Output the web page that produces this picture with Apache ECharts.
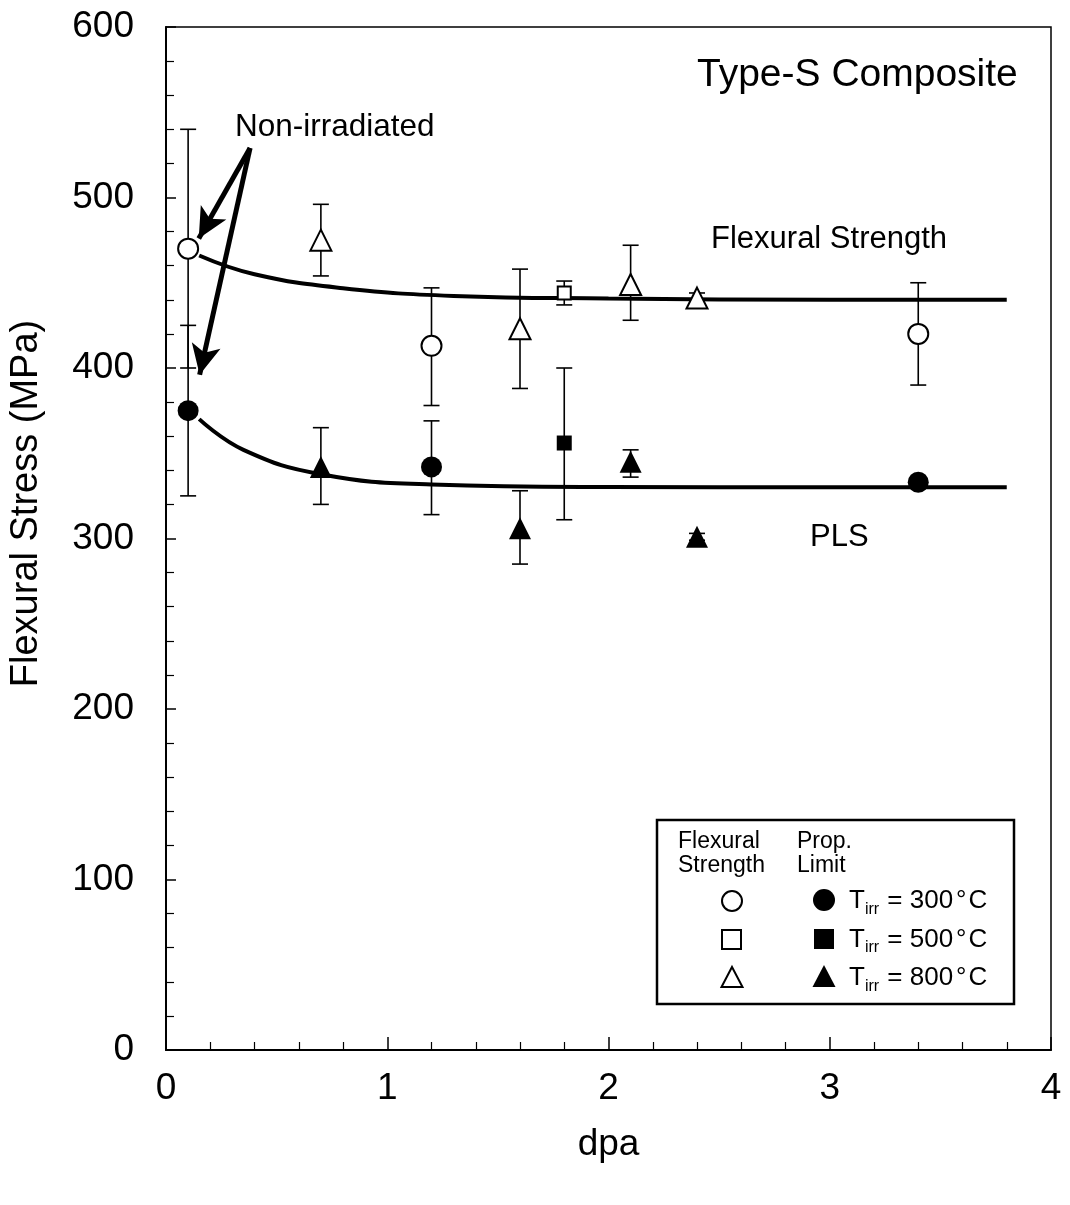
<!DOCTYPE html>
<html>
<head>
<meta charset="utf-8">
<script src="https://cdn.jsdelivr.net/npm/echarts@6/dist/echarts.min.js"></script>
<style>
html,body{margin:0;padding:0;background:#fff;}
#c{width:1070px;height:1205px;}
</style>
</head>
<body>
<div id="c"></div>
<script>
// ---- Data ----
// Flexural strength (open symbols)
const fs300X = [0.1, 1.2, 3.4];
const fs300Y = [470, 413, 420];
const fs300Lo = [400, 378, 390];
const fs300Hi = [540, 447, 450];

const fs500X = [1.8];
const fs500Y = [444];
const fs500Lo = [437];
const fs500Hi = [451];

const fs800X = [0.7, 1.6, 2.1, 2.4];
const fs800Y = [475, 423, 449, 441];
const fs800Lo = [454, 388, 428, 438];
const fs800Hi = [496, 458, 472, 444];

// Proportional limit stress (filled symbols)
const pl300X = [0.1, 1.2, 3.4];
const pl300Y = [375, 342, 333];
const pl300Lo = [325, 314, 331];
const pl300Hi = [425, 369, 335];

const pl500X = [1.8];
const pl500Y = [356];
const pl500Lo = [311];
const pl500Hi = [400];

const pl800X = [0.7, 1.6, 2.1, 2.4];
const pl800Y = [342, 306, 345, 301];
const pl800Lo = [320, 285, 336, 299];
const pl800Hi = [365, 328, 352, 303];

// Fitted trend curves
const fsCurveX = [0.15, 0.4, 0.8, 1.3, 2.0, 3.0, 3.8];
const fsCurveY = [466, 455, 446.8, 442.3, 440.8, 440, 440];
const plsCurveX = [0.15, 0.35, 0.7, 1.2, 2.0, 3.0, 3.8];
const plsCurveY = [370, 352, 337.7, 331.7, 330.2, 330, 330];

// Annotation arrows (data coords)
const arrowFrom = [0.38, 529];
const arrowTips = [[0.148, 476], [0.152, 396]];

// Axis ticks
const xTicks = [0, 1, 2, 3, 4];
const yTicks = [0, 100, 200, 300, 400, 500, 600];

const FONT = '"Liberation Sans", Arial, Helvetica, sans-serif';

function pts(xs, ys) { return xs.map((x, i) => [x, ys[i]]); }
function errData(xs, lo, hi) { return xs.map((x, i) => [x, lo[i], hi[i]]); }

function errSeries(xs, lo, hi) {
  return {
    type: 'custom',
    data: errData(xs, lo, hi),
    z: 2,
    silent: true,
    encode: { x: 0, y: [1, 2] },
    renderItem: function (params, api) {
      const x = api.value(0);
      const pLo = api.coord([x, api.value(1)]);
      const pHi = api.coord([x, api.value(2)]);
      const w = 8;
      const st = { stroke: '#000', lineWidth: 1.6, fill: null };
      return {
        type: 'group',
        children: [
          { type: 'line', shape: { x1: pLo[0], y1: pLo[1], x2: pHi[0], y2: pHi[1] }, style: st },
          { type: 'line', shape: { x1: pLo[0] - w, y1: pLo[1], x2: pLo[0] + w, y2: pLo[1] }, style: st },
          { type: 'line', shape: { x1: pHi[0] - w, y1: pHi[1], x2: pHi[0] + w, y2: pHi[1] }, style: st }
        ]
      };
    }
  };
}

function scat(xs, ys, symbol, size, filled) {
  return {
    type: 'scatter',
    data: pts(xs, ys),
    symbol: symbol,
    symbolSize: size,
    z: 5,
    itemStyle: filled ? { color: '#000', borderWidth: 0, opacity: 1 } :
      { color: '#fff', borderColor: '#000', borderWidth: 2, opacity: 1 }
  };
}

const chart = echarts.init(document.getElementById('c'), null, { renderer: 'canvas' });

const legendSymbols = [
  { type: 'circle', z: 11, shape: { cx: 732, cy: 901, r: 10 }, style: { fill: '#fff', stroke: '#000', lineWidth: 2 } },
  { type: 'rect', z: 11, shape: { x: 722, y: 930, width: 19, height: 19 }, style: { fill: '#fff', stroke: '#000', lineWidth: 2 } },
  { type: 'polygon', z: 11, shape: { points: [[732, 967], [742.5, 987], [721.5, 987]] }, style: { fill: '#fff', stroke: '#000', lineWidth: 2 } },
  { type: 'circle', z: 11, shape: { cx: 824, cy: 900, r: 11 }, style: { fill: '#000' } },
  { type: 'rect', z: 11, shape: { x: 814, y: 929, width: 20, height: 20 }, style: { fill: '#000' } },
  { type: 'polygon', z: 11, shape: { points: [[824, 965], [835.5, 987], [812.5, 987]] }, style: { fill: '#000' } }
];

const tempLabels = ['300', '500', '800'];
const legendTexts = tempLabels.map((t, i) => ({
  type: 'text',
  z: 11,
  x: 849,
  y: 901 + i * 38.5,
  style: {
    text: '{a|T}{b|irr}{a| = ' + t + '}{c|°}{a|C}',
    verticalAlign: 'middle',
    align: 'left',
    rich: {
      a: { fontSize: 26, fontFamily: FONT, fill: '#000', verticalAlign: 'middle' },
      c: { fontSize: 26, fontFamily: FONT, fill: '#000', verticalAlign: 'middle', padding: [0, 2, 0, 3] },
      b: { fontSize: 16, fontFamily: FONT, fill: '#000', verticalAlign: 'middle', padding: [17, 1, 0, 0] }
    }
  }
}));

const option = {
  backgroundColor: '#fff',
  animation: false,
  grid: { left: 166, right: 19, top: 27, bottom: 155, show: true, borderColor: '#000', borderWidth: 1.5, backgroundColor: 'transparent' },
  xAxis: {
    type: 'value', min: xTicks[0], max: xTicks[xTicks.length - 1], interval: 1,
    name: 'dpa', nameLocation: 'middle', nameGap: 76,
    nameTextStyle: { fontSize: 37, fontFamily: FONT, color: '#000' },
    axisLine: { show: true, onZero: false, lineStyle: { color: '#000', width: 2 } },
    axisTick: { show: true, inside: true, length: 13, lineStyle: { color: '#000', width: 1.5 } },
    minorTick: { show: true, splitNumber: 5, length: 8, lineStyle: { color: '#000', width: 1.2 } },
    axisLabel: { fontSize: 37, fontFamily: FONT, color: '#000', margin: 20 },
    splitLine: { show: false }
  },
  yAxis: {
    type: 'value', min: yTicks[0], max: yTicks[yTicks.length - 1], interval: 100,
    name: 'Flexural Stress (MPa)', nameLocation: 'middle', nameGap: 120, nameRotate: 90,
    nameTextStyle: { fontSize: 38, fontFamily: FONT, color: '#000', padding: [0, 0, 0, 70] },
    axisLine: { show: true, onZero: false, lineStyle: { color: '#000', width: 2 } },
    axisTick: { show: true, inside: true, length: 10, lineStyle: { color: '#000', width: 1.5 } },
    minorTick: { show: true, splitNumber: 5, length: 8, lineStyle: { color: '#000', width: 1.2 } },
    axisLabel: { fontSize: 37, fontFamily: FONT, color: '#000', margin: 32 },
    splitLine: { show: false }
  },
  series: [
    {
      type: 'line', data: pts(fsCurveX, fsCurveY), smooth: 0.45,
      showSymbol: false, symbol: 'none', z: 3,
      lineStyle: { color: '#000', width: 4 },
      markLine: {
        silent: true, symbol: ['none', 'arrow'], symbolSize: [22, 30], z: 6,
        label: { show: false },
        emphasis: { disabled: true },
        lineStyle: { color: '#000', width: 5, type: 'solid' },
        itemStyle: { color: '#000' },
        data: arrowTips.map(t => [{ coord: arrowFrom }, { coord: t }])
      }
    },
    {
      type: 'line', data: pts(plsCurveX, plsCurveY), smooth: 0.45,
      showSymbol: false, symbol: 'none', z: 3,
      lineStyle: { color: '#000', width: 4 }
    },
    errSeries(fs300X, fs300Lo, fs300Hi),
    errSeries(fs500X, fs500Lo, fs500Hi),
    errSeries(fs800X, fs800Lo, fs800Hi),
    errSeries(pl300X, pl300Lo, pl300Hi),
    errSeries(pl500X, pl500Lo, pl500Hi),
    errSeries(pl800X, pl800Lo, pl800Hi),
    scat(fs300X, fs300Y, 'circle', 20, false),
    scat(fs500X, fs500Y, 'rect', 13, false),
    scat(fs800X, fs800Y, 'triangle', 21, false),
    scat(pl300X, pl300Y, 'circle', 21, true),
    scat(pl500X, pl500Y, 'rect', 15, true),
    scat(pl800X, pl800Y, 'triangle', 22, true)
  ],
  graphic: [
    { type: 'text', left: 697, top: 56, style: { text: 'Type-S Composite', fontSize: 39, fontFamily: FONT, fill: '#000' } },
    { type: 'text', left: 235, top: 111, style: { text: 'Non-irradiated', fontSize: 31.5, fontFamily: FONT, fill: '#000' } },
    { type: 'text', left: 711, top: 224, style: { text: 'Flexural Strength', fontSize: 31, fontFamily: FONT, fill: '#000' } },
    { type: 'text', left: 810, top: 522, style: { text: 'PLS', fontSize: 31, fontFamily: FONT, fill: '#000' } },
    { type: 'rect', z: 10, shape: { x: 657, y: 820, width: 357, height: 184 }, style: { fill: '#fff', stroke: '#000', lineWidth: 2.5 } },
    { type: 'text', z: 11, left: 678, top: 830, style: { text: 'Flexural\nStrength', fontSize: 23, lineHeight: 24, fontFamily: FONT, fill: '#000' } },
    { type: 'text', z: 11, left: 797, top: 830, style: { text: 'Prop.\nLimit', fontSize: 23, lineHeight: 24, fontFamily: FONT, fill: '#000' } }
  ].concat(legendSymbols, legendTexts)
};

chart.setOption(option);
</script>
</body>
</html>
